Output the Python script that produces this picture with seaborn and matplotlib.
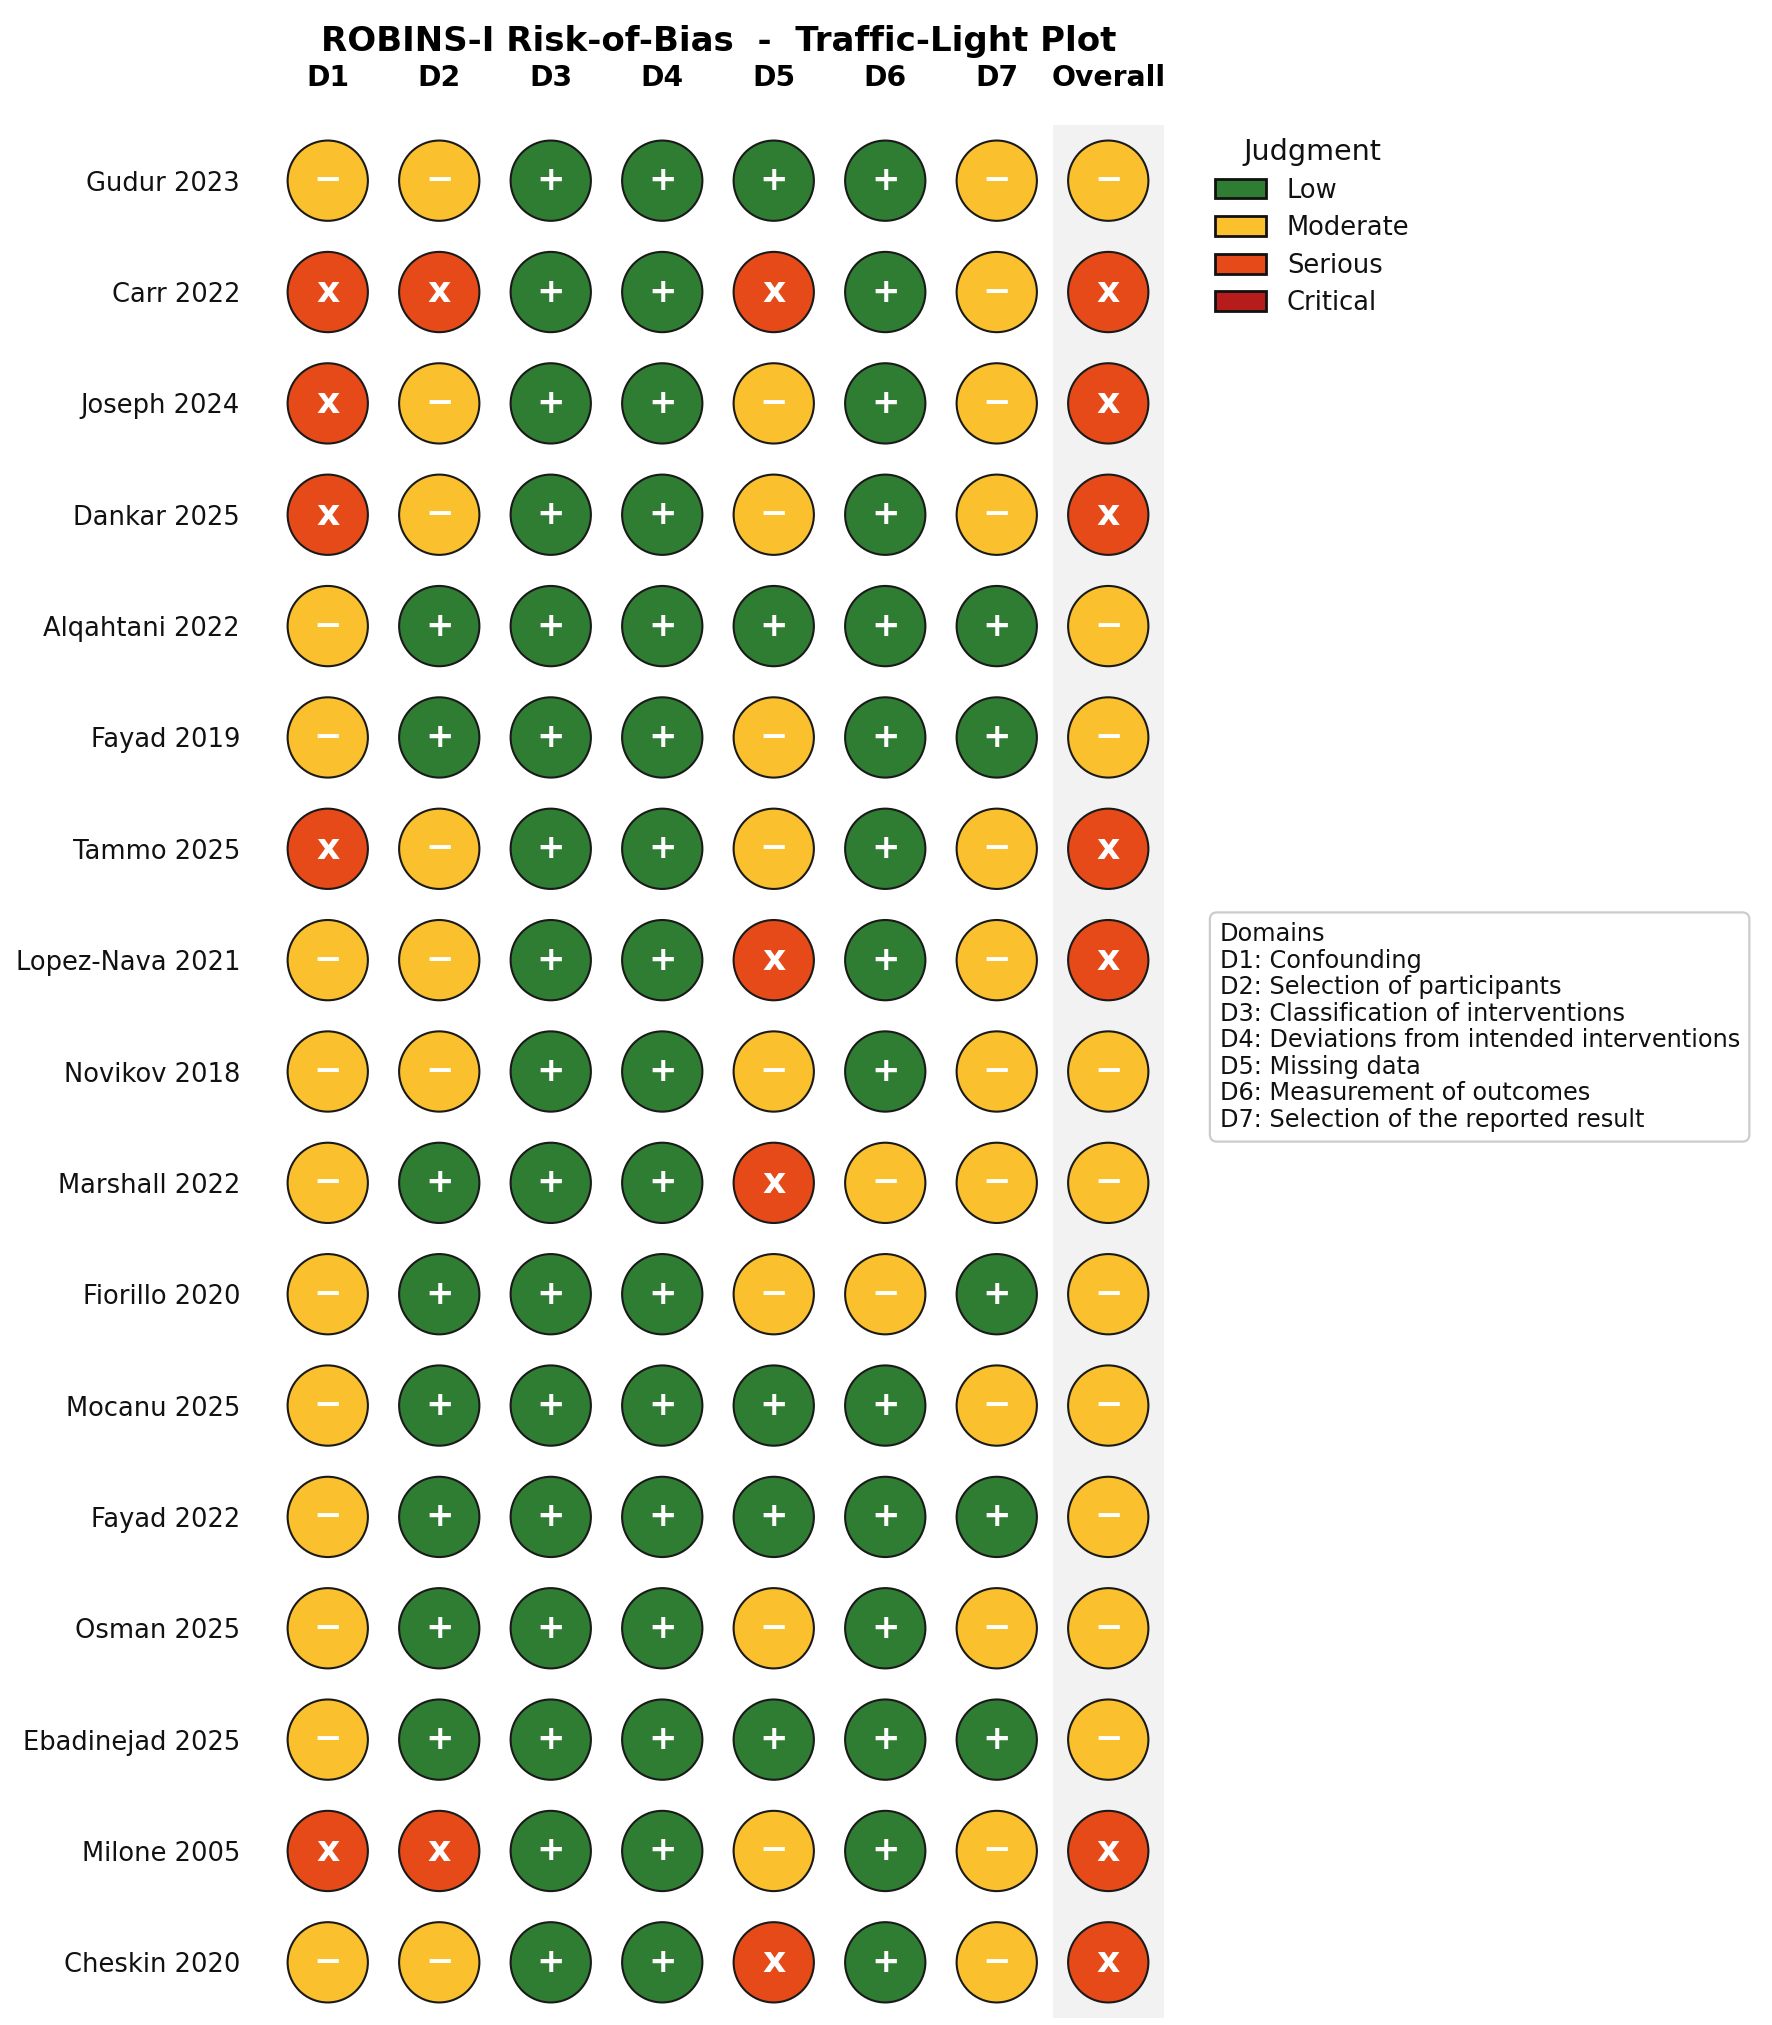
import matplotlib
matplotlib.use("Agg")
import matplotlib.pyplot as plt
from matplotlib.patches import Patch
import pandas as pd
import seaborn as sns

studies = ["Gudur 2023", "Carr 2022", "Joseph 2024", "Dankar 2025", "Alqahtani 2022",
           "Fayad 2019", "Tammo 2025", "Lopez-Nava 2021", "Novikov 2018", "Marshall 2022",
           "Fiorillo 2020", "Mocanu 2025", "Fayad 2022", "Osman 2025", "Ebadinejad 2025",
           "Milone 2005", "Cheskin 2020"]
domains = ["D1", "D2", "D3", "D4", "D5", "D6", "D7", "Overall"]
D1 = list("MSSSMMSMMMMMMMMSM")
D2 = list("MSMMLLMMMLLLLLLSM")
D3 = list("LLLLLLLLLLLLLLLLL")
D4 = list("LLLLLLLLLLLLLLLLL")
D5 = list("LSMMLMMSMSMLLMLMS")
D6 = list("LLLLLLLLLMMLLLLLL")
D7 = list("MMMMLLMMMMLMLMLMM")
overall = list("MSSSMMSSMMMMMMMSS")
judgment_names = {"L": "Low", "M": "Moderate", "S": "Serious", "C": "Critical"}
judgment_colors = {"Low": "#2E7D32", "Moderate": "#FBC02D", "Serious": "#E64A19", "Critical": "#B71C1C"}
judgment_symbols = {"Low": "+", "Moderate": "\u2212", "Serious": "x", "Critical": "!"}
domain_text = ("Domains\nD1: Confounding\nD2: Selection of participants\n"
               "D3: Classification of interventions\nD4: Deviations from intended interventions\n"
               "D5: Missing data\nD6: Measurement of outcomes\nD7: Selection of the reported result")

columns = [D1, D2, D3, D4, D5, D6, D7, overall]
df = pd.DataFrame([
    {"study": s, "domain": d, "judgment": judgment_names[col[i]]}
    for d, col in zip(domains, columns) for i, s in enumerate(studies)
])
df["x"] = df["domain"].map({d: i for i, d in enumerate(domains)})
df["y"] = df["study"].map({s: i for i, s in enumerate(studies)})

W, H = 1772, 2025
sns.set_theme(style="white")
plt.rcParams["font.family"] = ["DejaVu Sans"]
plt.rcParams["text.color"] = "#111111"
fig = plt.figure(figsize=(W / 200, H / 200), dpi=200)
ax = fig.add_axes([272 / W, 1 - 2018 / H, (1164 - 272) / W, (2018 - 125) / H])
ax.axvspan(6.5, 7.5, color="#F2F2F2", lw=0, zorder=0)
sns.scatterplot(data=df, x="x", y="y", hue="judgment", palette=judgment_colors,
                hue_order=list(judgment_colors), s=835, edgecolor="#1A1A1A",
                linewidth=0.75, legend=False, ax=ax, zorder=2, clip_on=False)
for _, r in df.iterrows():
    sym = judgment_symbols[r["judgment"]]
    ax.text(r["x"], r["y"], sym, color="white", ha="center", va="center",
            fontweight="bold", fontsize=13 if sym == "x" else 12.2, zorder=3)
ax.set_xlim(-0.5, 7.5)
ax.set_ylim(len(studies) - 0.5, -0.5)
ax.set_xticks(range(len(domains)), domains, fontweight="bold", fontsize=10.2, color="black")
ax.set_yticks(range(len(studies)), studies, fontsize=9.25, color="#111111")
ax.xaxis.tick_top()
ax.tick_params(axis="both", length=0)
ax.tick_params(axis="x", pad=12)
ax.tick_params(axis="y", pad=11.5)
ax.set_xlabel("")
ax.set_ylabel("")
sns.despine(ax=ax, left=True, bottom=True, top=True, right=True)
fig.text(719 / W, 1 - 42 / H, "ROBINS-I Risk-of-Bias  -  Traffic-Light Plot",
         ha="center", va="center", fontweight="bold", fontsize=12.24, color="black")

handles = [Patch(facecolor=c, edgecolor="#111111", linewidth=1.0, label=k) for k, c in judgment_colors.items()]
leg = fig.legend(handles=handles, title="Judgment", loc="upper left",
                 bbox_to_anchor=(1215 / W, 1 - 138 / H), frameon=False, fontsize=9.25,
                 title_fontsize=10.3, handlelength=2.0, handleheight=0.8,
                 labelspacing=0.45, handletextpad=0.8, borderpad=0, borderaxespad=0)
fig.text(1219.5 / W, 1 - 1027 / H, domain_text, ha="left", va="center", fontsize=8.66,
         color="#111111", linespacing=1.135,
         bbox=dict(boxstyle="round,pad=0.4,rounding_size=0.3", facecolor="white", edgecolor="#CCCCCC", linewidth=0.8))
fig.savefig("out.png", dpi=200, facecolor="white")
